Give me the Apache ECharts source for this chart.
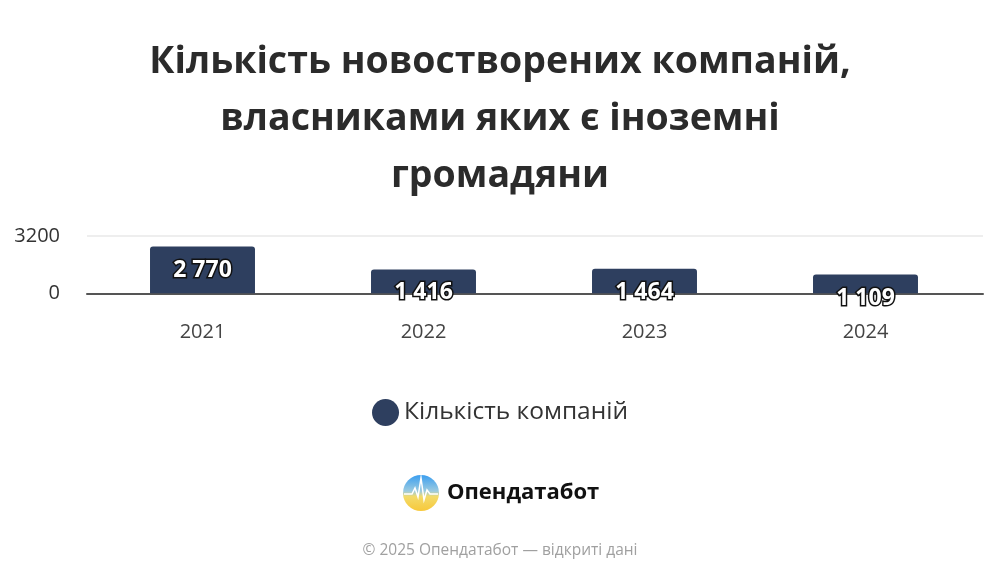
<!DOCTYPE html>
<html>
<head>
<meta charset="utf-8">
<script src="https://cdn.jsdelivr.net/npm/echarts@6/dist/echarts.min.js"></script>
<style>
html,body{margin:0;padding:0;background:#fff;}
#c{width:1000px;height:583px;}
</style>
</head>
<body>
<div id="c"></div>
<script>
const categories = ['2021', '2022', '2023', '2024'];
const companies = [2770, 1416, 1464, 1109];
const seriesName = 'Кількість компаній';
const yTicks = [0, 3200];
const yScaleMax = 3400;

const chart = echarts.init(document.getElementById('c'));
const fmt = v => String(v).replace(/\B(?=(\d{3})+(?!\d))/g, ' ');
const FONT = 'Open Sans';

chart.setOption({
  animation: false,
  backgroundColor: '#fff',
  title: {
    text: 'Кількість новостворених компаній,\nвласниками яких є іноземні\nгромадяни',
    left: 'center',
    top: 29,
    textStyle: {
      fontFamily: FONT,
      fontWeight: 'bold',
      fontSize: 37.5,
      lineHeight: 57,
      color: '#2b2b2b'
    }
  },
  legend: {
    data: [seriesName],
    top: 394,
    left: 'center',
    icon: 'circle',
    itemWidth: 27,
    itemHeight: 27,
    itemGap: 10,
    textStyle: { fontFamily: FONT, fontSize: 24.5, color: '#333' }
  },
  grid: [
    { left: 87, right: 17, top: 236, height: 57.3, containLabel: false },
    { left: 92, right: 24, top: 236, height: 57.3, containLabel: false }
  ],
  xAxis: [
    {
      gridIndex: 0,
      type: 'category',
      data: categories,
      axisTick: { show: false },
      axisLabel: { show: false },
      axisLine: { lineStyle: { color: '#555', width: 2 } }
    },
    {
      gridIndex: 1,
      type: 'category',
      data: categories,
      axisTick: { show: false },
      axisLine: { show: false },
      axisLabel: { margin: 29, fontFamily: FONT, fontSize: 20, color: '#444' }
    }
  ],
  yAxis: [
    {
      gridIndex: 0,
      type: 'value',
      min: yTicks[0],
      max: yTicks[1],
      interval: yTicks[1] - yTicks[0],
      axisLine: { show: false },
      axisTick: { show: false },
      splitLine: { lineStyle: { color: '#e8e8e8', width: 1.5 } },
      axisLabel: { margin: 27, fontFamily: FONT, fontSize: 20, color: '#333', formatter: v => String(v) }
    },
    {
      gridIndex: 1,
      type: 'value',
      min: 0,
      max: yScaleMax,
      show: false,
      splitLine: { show: false }
    }
  ],
  series: [{
    name: seriesName,
    type: 'bar',
    xAxisIndex: 1,
    yAxisIndex: 1,
    data: companies,
    barWidth: '47.5%',
    itemStyle: { color: '#2e3f5f', borderRadius: [3, 3, 0, 0] },
    label: {
      show: true,
      position: 'insideTop',
      distance: 12,
      formatter: p => fmt(p.value),
      fontFamily: FONT,
      fontWeight: 'bold',
      fontSize: 23,
      color: '#fff',
      textBorderColor: '#111',
      textBorderWidth: 3
    }
  }],
  graphic: [
    {
      type: 'circle',
      shape: { cx: 421, cy: 493, r: 18 },
      style: {
        fill: new echarts.graphic.LinearGradient(0, 0, 0, 1, [
          { offset: 0, color: '#3a9ef0' },
          { offset: 0.45, color: '#9ccbe0' },
          { offset: 0.6, color: '#f3db6a' },
          { offset: 1, color: '#f7c83a' }
        ])
      }
    },
    {
      type: 'polyline',
      shape: { points: [[404, 494], [412, 494], [415, 488], [418, 497], [421, 478], [424, 500], [427, 490], [430, 494], [438, 494]] },
      style: { stroke: '#fff', lineWidth: 1.5, fill: null }
    },
    {
      type: 'text',
      left: 447,
      top: 482,
      style: { text: 'Опендатабот', fontFamily: FONT, fontWeight: 'bold', fontSize: 22, fill: '#111' }
    },
    {
      type: 'text',
      left: 'center',
      top: 543,
      style: { text: '© 2025 Опендатабот — відкриті дані', fontFamily: FONT, fontSize: 15.5, fill: '#a0a0a0' }
    }
  ]
});
</script>
</body>
</html>
